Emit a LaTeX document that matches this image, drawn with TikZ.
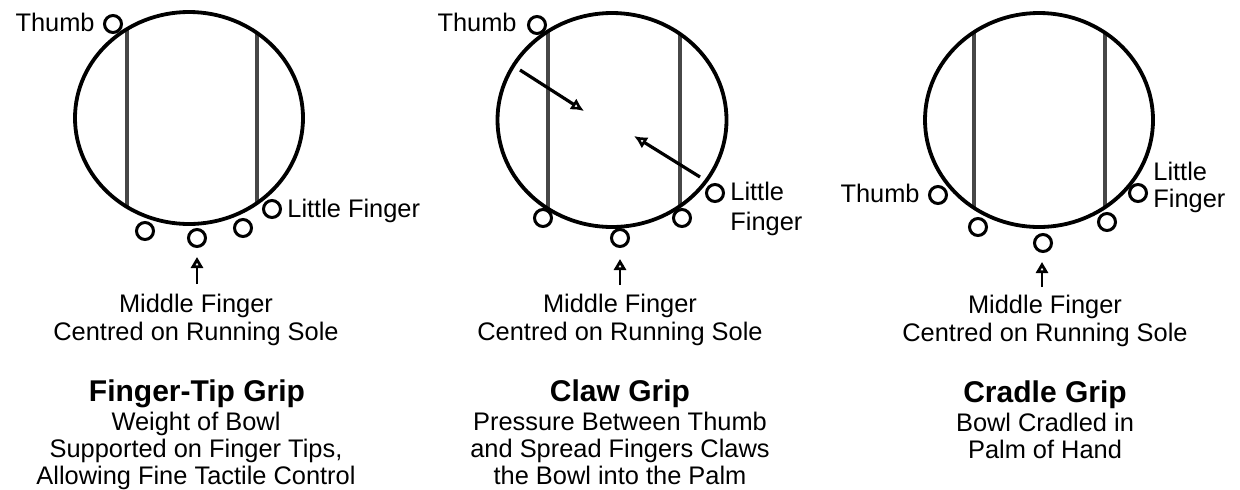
\documentclass[tikz,border=0pt]{standalone}
\usepackage{fontspec}
\setmainfont{Liberation Sans}
\usetikzlibrary{arrows.meta}
\begin{document}
\begin{tikzpicture}[x=0.5pt,y=-0.5pt,
  lbl/.style={font=\fontsize{12.7}{14}\selectfont, inner sep=0},
  ttl/.style={font=\fontsize{15}{17}\selectfont\bfseries, inner sep=0},
  bowl/.style={line width=1.9pt},
  chord/.style={line width=1.7pt, black!72},
  tip/.style={circle, draw, line width=1.5pt, minimum size=8.5pt, inner sep=0, fill=white},
  press/.style={line width=1.6pt, -{Latex[open,length=6.5pt,width=6.5pt]}},
  upar/.style={line width=1.4pt, -{Triangle[open,length=5.5pt,width=6pt]}}]
\useasboundingbox (0,0) rectangle (1240,489);

% ---------------- Panel 1: Finger-Tip Grip ----------------
\begin{scope}
  \clip (189,118) ellipse [x radius=114, y radius=106];
  \draw[chord] (127,0) -- (127,240);
  \draw[chord] (257,0) -- (257,240);
\end{scope}
\draw[bowl] (189,118) ellipse [x radius=114, y radius=106];
\node[tip] (t1) at (113,24) {};
\node[tip] (f1a) at (145,231) {};
\node[tip] (f1b) at (197,238) {};
\node[tip] (f1c) at (243,228) {};
\node[tip] (f1d) at (272,209) {};
\node[lbl, anchor=mid east] (th1) at (95,26) {Thumb};
\node[lbl, anchor=mid west] (lf1) at (287,212) {Little Finger};
\coordinate (u1s) at (197,284);
\coordinate (u1e) at (197,257);
\draw[upar] (u1s) -- (u1e);
\node[lbl, anchor=base] (m1a) at (196,312) {Middle Finger};
\node[lbl, anchor=base] (m1b) at (196,340) {Centred on Running Sole};
\node[ttl, anchor=base] (g1) at (197,401) {Finger-Tip Grip};
\node[lbl, anchor=base] (d1a) at (196,430) {Weight of Bowl};
\node[lbl, anchor=base] (d1b) at (196,457) {Supported on Finger Tips,};
\node[lbl, anchor=base] (d1c) at (196,484) {Allowing Fine Tactile Control};

% ---------------- Panel 2: Claw Grip ----------------
\begin{scope}
  \clip (612,120) ellipse [x radius=114.5, y radius=107];
  \draw[chord] (548,0) -- (548,240);
  \draw[chord] (680,0) -- (680,240);
\end{scope}
\draw[bowl] (612,120) ellipse [x radius=114.5, y radius=107];
\node[tip] (t2) at (537,25) {};
\node[tip] (f2a) at (543,218) {};
\node[tip] (f2b) at (620,238) {};
\node[tip] (f2c) at (682,218) {};
\node[tip] (f2d) at (715,193) {};
\node[lbl, anchor=mid east] (th2) at (517,26) {Thumb};
\node[lbl, anchor=mid west] (lf2a) at (730,195) {Little};
\node[lbl, anchor=mid west] (lf2b) at (730,225) {Finger};
\coordinate (p1s) at (520,70);
\coordinate (p1e) at (584,111);
\coordinate (p2s) at (700,177);
\coordinate (p2e) at (634,136);
\draw[press] (p1s) -- (p1e);
\draw[press] (p2s) -- (p2e);
\coordinate (u2s) at (620,285);
\coordinate (u2e) at (620,259);
\draw[upar] (u2s) -- (u2e);
\node[lbl, anchor=base] (m2a) at (620,312) {Middle Finger};
\node[lbl, anchor=base] (m2b) at (620,340) {Centred on Running Sole};
\node[ttl, anchor=base] (g2) at (620,401) {Claw Grip};
\node[lbl, anchor=base] (d2a) at (620,430) {Pressure Between Thumb};
\node[lbl, anchor=base] (d2b) at (620,457) {and Spread Fingers Claws};
\node[lbl, anchor=base] (d2c) at (620,484) {the Bowl into the Palm};

% ---------------- Panel 3: Cradle Grip ----------------
\begin{scope}
  \clip (1039,120) ellipse [x radius=114, y radius=107];
  \draw[chord] (974,0) -- (974,240);
  \draw[chord] (1105,0) -- (1105,240);
\end{scope}
\draw[bowl] (1039,120) ellipse [x radius=114, y radius=107];
\node[tip] (t3) at (938,195) {};
\node[tip] (f3a) at (978,227) {};
\node[tip] (f3b) at (1043,243) {};
\node[tip] (f3c) at (1107,222) {};
\node[tip] (f3d) at (1138,193) {};
\node[lbl, anchor=mid east] (th3) at (920,197) {Thumb};
\node[lbl, anchor=mid west] (lf3a) at (1153,175) {Little};
\node[lbl, anchor=mid west] (lf3b) at (1153,202) {Finger};
\coordinate (u3s) at (1042,287);
\coordinate (u3e) at (1042,262);
\draw[upar] (u3s) -- (u3e);
\node[lbl, anchor=base] (m3a) at (1045,313) {Middle Finger};
\node[lbl, anchor=base] (m3b) at (1045,341) {Centred on Running Sole};
\node[ttl, anchor=base] (g3) at (1045,402) {Cradle Grip};
\node[lbl, anchor=base] (d3a) at (1045,431) {Bowl Cradled in};
\node[lbl, anchor=base] (d3b) at (1045,458) {Palm of Hand};
\end{tikzpicture}
\end{document}
